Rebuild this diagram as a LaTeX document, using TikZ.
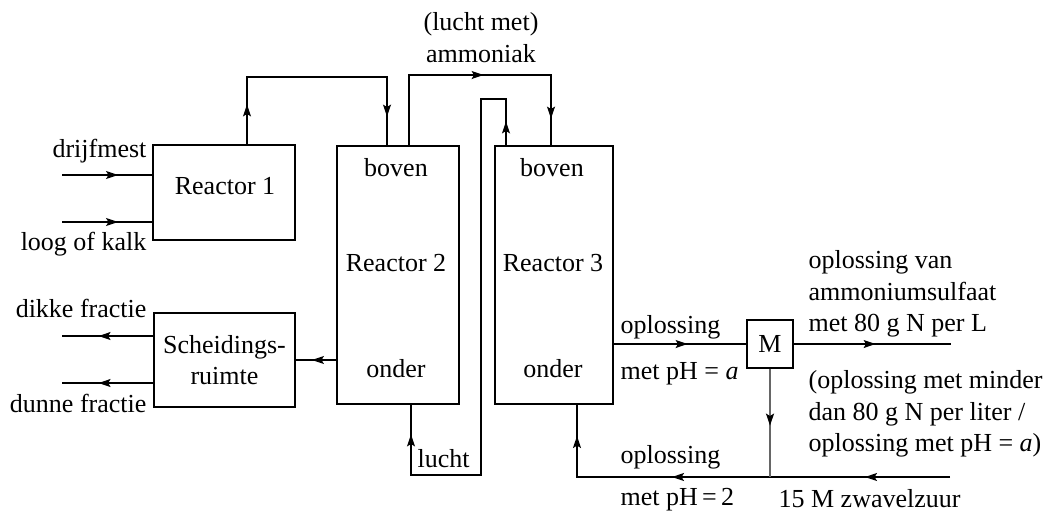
\documentclass[tikz,border=0pt]{standalone}
\usepackage{fontspec}
\setmainfont{Liberation Serif}
\usetikzlibrary{arrows.meta,decorations.markings}
\tikzset{
  box/.style={draw,inner sep=0pt},
  lbl/.style={inner sep=0pt},
  arrowat/.style={postaction={decorate,decoration={markings,
    mark=at position #1 with {\arrow{Stealth[length=6pt,width=4pt,inset=1.2pt,color=black]}}}}},
}
\begin{document}
\begin{tikzpicture}[x=0.5pt,y=-0.5pt,font=\fontsize{13}{15.75}\selectfont,line width=0.6pt]
\useasboundingbox (0,0) rectangle (1048,510);
% boxes
\node[box,minimum width=71pt,minimum height=47.5pt] (r1) at (224,192.5) {};
\node[box,minimum width=70.5pt,minimum height=47pt,align=center] (sep) at (224.5,360) {Scheidings-\\ruimte};
\node[box,minimum width=61pt,minimum height=129pt] (r2) at (398,275) {};
\node[box,minimum width=59pt,minimum height=129pt] (r3) at (554,275) {};
\node[box,minimum width=23pt,minimum height=24pt] (m) at (770,344) {M};
% texts in the reactors
\node[lbl,anchor=base] (r1name) at (225,194) {Reactor 1};
\node[lbl,anchor=base] (r2top) at (396,176) {boven};
\node[lbl,anchor=base] (r2name) at (396,271) {Reactor 2};
\node[lbl,anchor=base] (r2bot) at (396,377) {onder};
\node[lbl,anchor=base] (r3top) at (552,176) {boven};
\node[lbl,anchor=base] (r3name) at (553,271) {Reactor 3};
\node[lbl,anchor=base] (r3bot) at (553,377) {onder};
% free ends
\coordinate (feedA) at (62,175);
\coordinate (feedB) at (62,222);
\coordinate (outA) at (62,336);
\coordinate (outB) at (62,383);
\coordinate (acid) at (950,477);
\coordinate (prod) at (951,344);
% corners
\coordinate (c1) at (247,77);
\coordinate (c2) at (387,77);
\coordinate (c3) at (409,75);
\coordinate (c4) at (551,75);
\coordinate (c5) at (506,99);
\coordinate (c6) at (481,99);
\coordinate (c7) at (481,475);
\coordinate (c8) at (411,475);
\coordinate (c9) at (577,477);
% streams
\draw[arrowat=0.62] (feedA) -- (feedA -| r1.west);
\draw[arrowat=0.62] (feedB) -- (feedB -| r1.west);
\draw[arrowat=0.6] (outA -| sep.west) -- (outA);
\draw[arrowat=0.6] (outB -| sep.west) -- (outB);
\draw[arrowat=0.6] (sep.east -| r2.west) -- (sep.east);
\draw[arrowat=20pt,arrowat=123.5pt] (c1 |- r1.north) -- (c1) -- (c2) -- (c2 |- r2.north);
\draw[arrowat=72.5pt,arrowat=128pt] (c3 |- r2.north) -- (c3) -- (c4) -- (c4 |- r3.north);
\draw[arrowat=12pt,arrowat=279pt] (c5 |- r3.north) -- (c5) -- (c6) -- (c7) -- (c8) -- (c8 |- r2.south);
\draw[arrowat=42.5pt,arrowat=139pt,arrowat=207pt] (acid) -- (c9) -- (c9 |- r3.south);
\draw[arrowat=37pt] (r3.east |- m.west) -- (m.west);
\draw[arrowat=41pt] (m.east) -- (prod);
\draw[black!60,line width=0.8pt,arrowat=28.5pt] (m.south) -- (m.south |- acid);
% labels
\node[lbl,anchor=base east] (ldrijf) at (147,157) {drijfmest};
\node[lbl,anchor=base east] (lloog) at (147,250) {loog of kalk};
\node[lbl,anchor=base east] (ldik) at (147,317) {dikke fractie};
\node[lbl,anchor=base east] (ldun) at (147,412) {dunne fractie};
\node[lbl,align=center] (lamm) at (481,37.5) {(lucht met)\\ammoniak};
\node[lbl,anchor=base west] (llucht) at (417,467) {lucht};
\node[lbl,anchor=base west] (lopl1) at (620,333) {oplossing};
\node[lbl,anchor=base west] (lpha) at (620,379) {met pH = \textit{a}};
\node[lbl,anchor=base west] (lopl2) at (620,463) {oplossing};
\node[lbl,anchor=base west] (lph2) at (620,505) {met pH\,=\,2};
\node[lbl,anchor=base west] (lacid) at (778,507) {15 M zwavelzuur};
\node[lbl,anchor=west,align=left] (lprod) at (808,294) {oplossing van\\ammoniumsulfaat\\met 80 g N per L};
\node[lbl,anchor=west,align=left] (lrec) at (808,414) {(oplossing met minder\\dan 80 g N per liter /\\oplossing met pH = \textit{a})};
\end{tikzpicture}
\end{document}
